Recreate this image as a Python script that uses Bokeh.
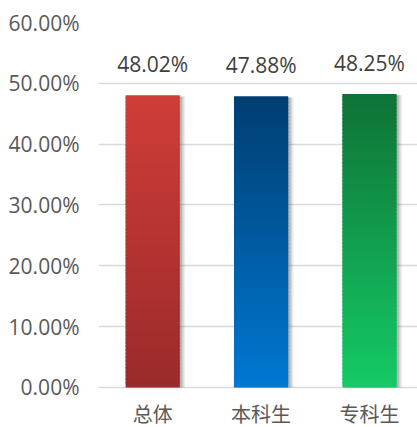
from bokeh.plotting import figure
from bokeh.models import ColumnDataSource, Range1d, FixedTicker, NumeralTickFormatter
from bokeh.core.properties import value
from bokeh.embed import file_html
from bokeh.resources import INLINE

categories = ["总体", "本科生", "专科生"]
rates = [0.4802, 0.4788, 0.4825]
rate_labels = ["48.02%", "47.88%", "48.25%"]
top_colors = ["#CF3D38", "#003E70", "#0F7236"]
bottom_colors = ["#9B2A2B", "#0078D2", "#14CA66"]
yticks = [0.0, 0.1, 0.2, 0.3, 0.4, 0.5, 0.6]

xs = list(range(len(categories)))
BAR_W = 0.5

# frame spans the whole lower part; the area below 0 holds the category labels
p = figure(width=417, height=427, output_backend="svg", toolbar_location=None,
           x_range=Range1d(-0.5, 2.443), y_range=Range1d(-0.0658, 0.6),
           min_border_left=98, min_border_right=0, min_border_top=22, min_border_bottom=0)
p.outline_line_color = None
p.background_fill_color = "white"
p.border_fill_color = "white"

# axes
p.xgrid.grid_line_color = None
p.ygrid.grid_line_color = "#D9D9D9"
p.ygrid.grid_line_width = 1.5
p.yaxis.ticker = FixedTicker(ticks=yticks)
p.yaxis.formatter = NumeralTickFormatter(format="0.00%")
p.yaxis.axis_line_color = None
p.yaxis.major_tick_line_color = None
p.yaxis.minor_tick_line_color = None
p.yaxis.major_label_text_font = "Open Sans"
p.yaxis.major_label_text_font_size = "21px"
p.yaxis.major_label_text_color = "#595959"
p.yaxis.major_label_standoff = 13
p.xaxis.visible = False


def hex2rgb(h):
    h = h.lstrip("#")
    return tuple(int(h[i:i + 2], 16) for i in (0, 2, 4))


def mix(c1, c2, t):
    a, b = hex2rgb(c1), hex2rgb(c2)
    return "#%02x%02x%02x" % tuple(round(a[i] + (b[i] - a[i]) * t) for i in range(3))


# shadows
for off, alpha in [(0.05, 0.12), (0.035, 0.18), (0.02, 0.25)]:
    p.vbar(x=[x + off for x in xs], top=[r - 0.002 for r in rates], bottom=0, width=BAR_W,
           fill_color="#606060", fill_alpha=alpha, line_color=None)

# gradient bars
N = 80
sx, sb, st, sc = [], [], [], []
for x, r, ct, cb in zip(xs, rates, top_colors, bottom_colors):
    for k in range(N):
        sx.append(x)
        sb.append(r * k / N)
        st.append(min(r, r * (k + 1.6) / N))
        sc.append(mix(cb, ct, (k + 0.5) / N))
p.vbar(x="x", bottom="b", top="t", width=BAR_W, fill_color="c", line_color=None,
       source=ColumnDataSource(dict(x=sx, b=sb, t=st, c=sc)))

# value labels
p.text(x=xs, y=rates, text=rate_labels, text_align="center", text_baseline="alphabetic",
       y_offset=-31, text_font=value("Open Sans"), text_font_size="21px", text_color="#404040")

# category labels
p.text(x=xs, y=[0] * len(xs), text=categories, text_align="center", text_baseline="middle",
       y_offset=26, text_font=value("Noto Sans CJK SC"), text_font_size="20px",
       text_color="#595959")

open("out.html", "w").write(file_html(p, INLINE))
